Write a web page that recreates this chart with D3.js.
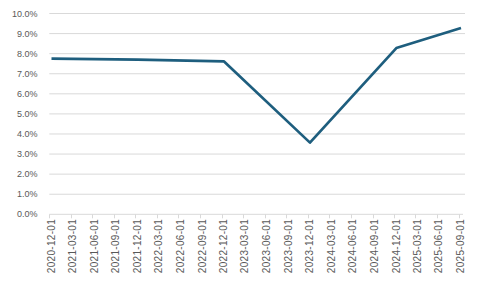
<html>
<script src='https://d3js.org/d3.v7.min.js'></script>
<style>
body {margin:0; background:#fff;}
text {font-family: 'Liberation Sans', Arial, sans-serif; fill:#595959;}
</style>
<body>
<svg width=479 height=287></svg>
<script>
// data points
var dates = ['2020-12-01','2021-12-01','2022-12-01','2023-12-01','2024-12-01','2025-09-01'];
var rates = [0.0775, 0.0770, 0.0762, 0.0357, 0.0828, 0.0928];
// quarterly tick labels on the date axis
var tickLabels = ['2020-12-01','2021-03-01','2021-06-01','2021-09-01','2021-12-01','2022-03-01','2022-06-01',
  '2022-09-01','2022-12-01','2023-03-01','2023-06-01','2023-09-01','2023-12-01','2024-03-01','2024-06-01',
  '2024-09-01','2024-12-01','2025-03-01','2025-06-01','2025-09-01'];
var yTicks = [0,0.01,0.02,0.03,0.04,0.05,0.06,0.07,0.08,0.09,0.10];

var parse = d3.timeParse('%Y-%m-%d');
var fmt = d3.format('.1%');

var xs = d3.scaleTime().domain([parse('2020-12-01'), parse('2025-09-01')]).range([51.5, 461]);
var ys = d3.scaleLinear().domain([0, 0.10]).range([214.3, 13.5]);

var svg = d3.select('svg');
var left = 49.3, right = 465;

// gridlines
svg.append('g').selectAll('line').data(yTicks.slice(1)).enter().append('line')
  .attr('x1', left).attr('x2', right)
  .attr('y1', function(d){return ys(d);}).attr('y2', function(d){return ys(d);})
  .attr('stroke', '#d9d9d9').attr('stroke-width', 1);

// y labels
svg.append('g').selectAll('text').data(yTicks).enter().append('text')
  .attr('x', 37.5).attr('y', function(d){return ys(d);})
  .attr('dy', '0.35em').attr('text-anchor', 'end')
  .style('font-size', '9px')
  .text(function(d){return fmt(d);});

// x axis line + ticks
svg.append('line').attr('x1', left).attr('x2', 463)
  .attr('y1', ys(0)).attr('y2', ys(0)).attr('stroke', '#d9d9d9');
svg.append('g').selectAll('line').data(tickLabels).enter().append('line')
  .attr('x1', function(d){return Math.round(xs(parse(d)) - 2.2) + 0.5;})
  .attr('x2', function(d){return Math.round(xs(parse(d)) - 2.2) + 0.5;})
  .attr('y1', ys(0)).attr('y2', ys(0) + 4)
  .attr('stroke', '#d9d9d9');

// x labels, rotated
svg.append('g').selectAll('text').data(tickLabels).enter().append('text')
  .attr('transform', function(d){return 'translate(' + (xs(parse(d)) - 0.3) + ',219) rotate(-90)';})
  .attr('dy', '0.35em').attr('text-anchor', 'end')
  .style('font-size', '10px').style('letter-spacing', '0.3px')
  .text(function(d){return d;});

// the line
var line = d3.line()
  .x(function(d,i){return xs(parse(dates[i]));})
  .y(function(d){return ys(d);});
svg.append('path').datum(rates)
  .attr('d', line)
  .attr('fill', 'none').attr('stroke', '#1e5e7e')
  .attr('stroke-width', 2.7).attr('stroke-linejoin', 'round');
</script>
</body>
</html>
